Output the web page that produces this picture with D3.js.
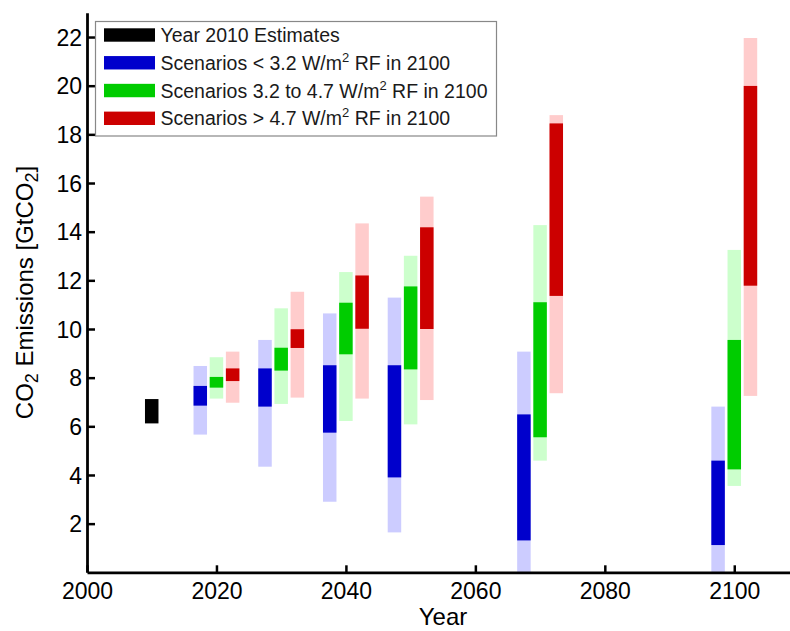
<!DOCTYPE html>
<html>
<head>
<meta charset="utf-8">
<script src="https://cdn.jsdelivr.net/npm/d3@7"></script>
<style>
  body { margin: 0; background: #fff; }
  svg { display: block; font-family: "Liberation Sans", Arial, sans-serif; }
</style>
</head>
<body>
<svg width="790" height="631"></svg>
<script>
// scenario years and ranges [min, max] in GtCO2
const years = [2020, 2030, 2040, 2050, 2070, 2100];
const estimate2010 = [6.12, 7.12];

const lowFull  = [[5.66, 8.48], [4.34, 9.55], [2.90, 10.64], [1.64, 11.29], [0, 9.07], [0, 6.81]];
const lowCore  = [[6.85, 7.66], [6.81, 8.38], [5.74, 8.51], [3.90, 8.51], [1.31, 6.49], [1.12, 4.59]];
const midFull  = [[7.14, 8.84], [6.92, 10.85], [6.22, 12.34], [6.08, 13.01], [4.59, 14.27], [3.55, 13.25]];
const midCore  = [[7.59, 8.03], [8.29, 9.23], [8.96, 11.08], [8.34, 11.75], [5.55, 11.10], [4.23, 9.55]];
const highFull = [[6.97, 9.07], [7.18, 11.53], [7.14, 14.34], [7.08, 15.44], [7.36, 18.79], [7.25, 21.96]];
const highCore = [[7.86, 8.38], [9.22, 9.99], [10.01, 12.2], [10.0, 14.18], [11.36, 18.45], [11.78, 19.99]];

const xTicks = [2000, 2020, 2040, 2060, 2080, 2100];
const yTicks = [2, 4, 6, 8, 10, 12, 14, 16, 18, 20, 22];

const series = [
  { name: "low",  label: "Scenarios < 3.2 W/m", tail: " RF in 2100", full: lowFull,  core: lowCore,  dark: "#0000cc", light: "#ccccff", offset: -2.5 },
  { name: "mid",  label: "Scenarios 3.2 to 4.7 W/m", tail: " RF in 2100", full: midFull,  core: midCore,  dark: "#00cc00", light: "#ccffcc", offset: 0 },
  { name: "high", label: "Scenarios > 4.7 W/m", tail: " RF in 2100", full: highFull, core: highCore, dark: "#cc0000", light: "#ffcccc", offset: 2.5 }
];

const svg = d3.select("svg");
const x = d3.scaleLinear().domain([2000, 2110]).range([87, 799]);
const y = d3.scaleLinear().domain([0, 23]).range([572.3, 12.7]);
const barW = 13.5;

const plot = svg.append("g");

// 2010 estimate
plot.append("rect")
  .attr("x", x(2010) - barW / 2)
  .attr("y", y(estimate2010[1]))
  .attr("width", barW)
  .attr("height", y(estimate2010[0]) - y(estimate2010[1]))
  .attr("fill", "#000");

series.forEach(s => {
  const g = plot.append("g").attr("class", s.name);
  g.selectAll("rect.full")
    .data(years.map((yr, i) => ({ yr, r: s.full[i] })))
    .join("rect")
    .attr("class", "full")
    .attr("x", d => x(d.yr + s.offset) - barW / 2)
    .attr("y", d => y(d.r[1]))
    .attr("width", barW)
    .attr("height", d => y(d.r[0]) - y(d.r[1]))
    .attr("fill", s.light);
  g.selectAll("rect.core")
    .data(years.map((yr, i) => ({ yr, r: s.core[i] })))
    .join("rect")
    .attr("class", "core")
    .attr("x", d => x(d.yr + s.offset) - barW / 2)
    .attr("y", d => y(d.r[1]))
    .attr("width", barW)
    .attr("height", d => y(d.r[0]) - y(d.r[1]))
    .attr("fill", s.dark);
});

// axes (ticks pointing inward, matlab style)
const xAxis = svg.append("g")
  .attr("transform", `translate(0,${y(0)})`)
  .call(d3.axisTop(x).tickValues(xTicks).tickFormat(d3.format("d")).tickSize(7).tickSizeOuter(0));
xAxis.selectAll("text")
  .attr("y", 27)
  .attr("dy", 0)
  .attr("font-size", 23)
  .attr("fill", "#000");

const yAxis = svg.append("g")
  .attr("transform", `translate(${x(2000)},0)`)
  .call(d3.axisRight(y).tickValues(yTicks).tickSize(8).tickSizeOuter(0));
yAxis.selectAll("text")
  .attr("x", -5)
  .attr("dy", "0.35em")
  .attr("text-anchor", "end")
  .attr("font-size", 23)
  .attr("fill", "#000");

[xAxis, yAxis].forEach(a => {
  a.select(".domain").attr("stroke", "#000").attr("stroke-width", 2.8);
  a.selectAll(".tick line").attr("stroke", "#000").attr("stroke-width", 2.5);
});

// axis labels
svg.append("text")
  .attr("x", (x(2000) + x(2110)) / 2)
  .attr("y", 625)
  .attr("text-anchor", "middle")
  .attr("font-size", 24)
  .text("Year");

const yl = svg.append("text")
  .attr("transform", `translate(33,${(y(0) + y(23)) / 2}) rotate(-90)`)
  .attr("text-anchor", "middle")
  .attr("font-size", 24);
yl.append("tspan").text("CO");
yl.append("tspan").attr("font-size", 18).attr("baseline-shift", "-0.3em").text("2");
yl.append("tspan").text(" Emissions [GtCO");
yl.append("tspan").attr("font-size", 18).attr("baseline-shift", "-0.3em").text("2");
yl.append("tspan").text("]");

// legend
const legend = svg.append("g");
legend.append("rect")
  .attr("x", 95.5).attr("y", 21.5)
  .attr("width", 401).attr("height", 114.5)
  .attr("fill", "#fff")
  .attr("stroke", "#888")
  .attr("stroke-width", 1.2);

const legendItems = [{ label: "Year 2010 Estimates", tail: null, dark: "#000" }].concat(series);
const rowY = d3.scaleLinear().domain([0, 3]).range([35, 118.3]);

legendItems.forEach((d, i) => {
  const cy = rowY(i);
  legend.append("rect")
    .attr("x", 104).attr("y", cy - 6.7)
    .attr("width", 51).attr("height", 13.4)
    .attr("fill", d.dark);
  const t = legend.append("text")
    .attr("x", 160.5).attr("y", cy + 7)
    .attr("font-size", 19.5)
    .attr("fill", "#1a1a1a");
  t.append("tspan").text(d.label);
  if (d.tail) {
    t.append("tspan").attr("font-size", 13).attr("baseline-shift", "0.65em").text("2");
    t.append("tspan").text(d.tail);
  }
});
</script>
</body>
</html>
